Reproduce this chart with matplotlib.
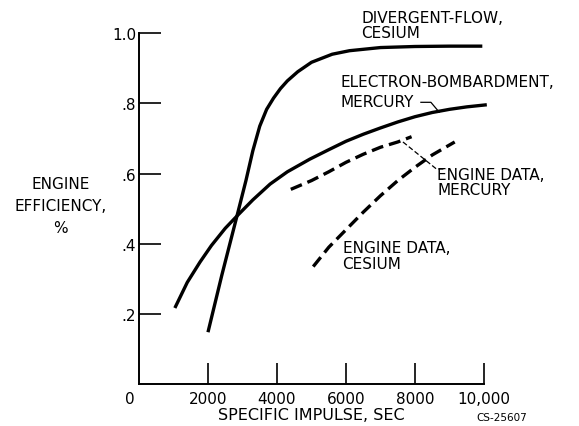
import numpy as np
import matplotlib
matplotlib.use("Agg")
import matplotlib.pyplot as plt
from matplotlib.transforms import ScaledTranslation

# Curves: specific impulse (sec) vs engine efficiency
divergent_x = [2000, 2400, 2840, 3100, 3300, 3500, 3700, 3900, 4100, 4300, 4600, 5000,
               5600, 6100, 7000, 8000, 9000, 9950]
divergent_y = [0.148, 0.31, 0.479, 0.58, 0.665, 0.735, 0.783, 0.815, 0.842, 0.864, 0.890, 0.917,
               0.940, 0.950, 0.959, 0.962, 0.963, 0.963]

bombard_x = [1040, 1400, 1770, 2100, 2500, 2840, 3300, 3800, 4300, 4950, 5500, 6000, 6500,
             7000, 7500, 8000, 8500, 9000, 9500, 10080]
bombard_y = [0.217, 0.29, 0.348, 0.395, 0.444, 0.479, 0.525, 0.570, 0.605, 0.641, 0.668, 0.692,
             0.712, 0.730, 0.747, 0.762, 0.774, 0.783, 0.790, 0.796]

eng_merc_x = [4400, 5000, 5500, 6000, 6500, 7000, 7500, 7900]
eng_merc_y = [0.555, 0.58, 0.605, 0.632, 0.655, 0.675, 0.69, 0.705]

eng_cs_x = [5050, 5500, 6000, 6500, 7000, 7500, 8000, 8500, 9150]
eng_cs_y = [0.335, 0.39, 0.44, 0.49, 0.537, 0.58, 0.618, 0.653, 0.69]

x_ticks = [0, 2000, 4000, 6000, 8000, 10000]
x_ticklabels = ["0", "2000", "4000", "6000", "8000", "10,000"]
y_ticks = [0.2, 0.4, 0.6, 0.8, 1.0]
y_ticklabels = [".2", ".4", ".6", ".8", "1.0"]

plt.rcParams['font.family'] = ['DejaVu Sans']

fig = plt.figure(figsize=(5.79, 4.27), dpi=100)
ax = fig.add_axes([0.240, 0.098, 0.596, 0.822])

lw = 2.4
dash = (0, (3.6, 1.8))
ax.plot(divergent_x, divergent_y, color='black', lw=lw, clip_on=False,
        solid_capstyle='butt', solid_joinstyle='round')
ax.plot(bombard_x, bombard_y, color='black', lw=lw, clip_on=False,
        solid_capstyle='butt', solid_joinstyle='round')
ax.plot(eng_merc_x, eng_merc_y, color='black', lw=lw, ls=dash, clip_on=False)
ax.plot(eng_cs_x, eng_cs_y, color='black', lw=lw, ls=dash, clip_on=False)

ax.set_xlim(0, 10000)
ax.set_ylim(0, 1.0)
ax.set_xticks(x_ticks)
ax.set_xticklabels(x_ticklabels)
ax.set_yticks(y_ticks)
ax.set_yticklabels(y_ticklabels)
ax.tick_params(direction='in', length=15, width=1.2, labelsize=11, pad=5)
ax.tick_params(axis='y', length=16, pad=2)

# "0" label sits a little left of the origin
lbl0 = ax.get_xticklabels()[0]
lbl0.set_transform(lbl0.get_transform() + ScaledTranslation(-0.09, 0, fig.dpi_scale_trans))
ax.xaxis.get_major_ticks()[0].tick1line.set_visible(False)

for s in ['top', 'right']:
    ax.spines[s].set_visible(False)
for s in ['left', 'bottom']:
    ax.spines[s].set_linewidth(1.4)

ax.set_xlabel("SPECIFIC IMPULSE, SEC", fontsize=11.5, labelpad=1)
fig.text(0.104, 0.517, "ENGINE\nEFFICIENCY,\n%", ha='center', va='center',
         fontsize=11, linespacing=1.6)
fig.text(0.867, 0.022, "CS-25607", fontsize=7.5, ha='center', va='center')

# curve labels
fs = 11
ax.text(6450, 1.065, "DIVERGENT-FLOW,\nCESIUM", fontsize=fs, va='top', ha='left',
        linespacing=1.0)
ax.text(5850, 0.885, "ELECTRON-BOMBARDMENT,\nMERCURY", fontsize=fs, va='top', ha='left',
        linespacing=1.45)
ax.text(8650, 0.62, "ENGINE DATA,\nMERCURY", fontsize=fs, va='top', ha='left',
        linespacing=1.05)
ax.text(5900, 0.41, "ENGINE DATA,\nCESIUM", fontsize=fs, va='top', ha='left',
        linespacing=1.1)

# leader lines
ax.plot([8170, 8460, 8700], [0.803, 0.803, 0.775], color='black', lw=0.9)
ax.plot([7650, 8620, 8900], [0.69, 0.613, 0.613], color='black', lw=0.9, ls=(0, (4, 2)))

fig.savefig("out.png", dpi=100)
